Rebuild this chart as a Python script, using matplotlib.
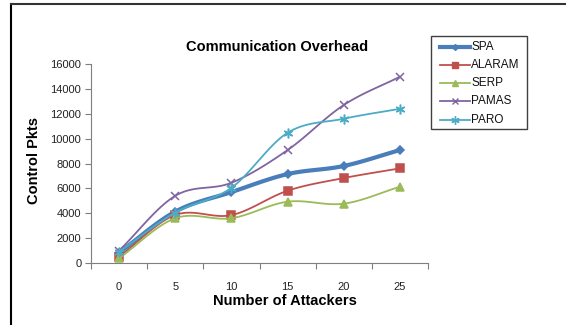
import numpy as np
import matplotlib
matplotlib.use("Agg")
from matplotlib import pyplot as plt
from matplotlib.lines import Line2D
from matplotlib.patches import Rectangle

plt.rcParams['font.family'] = ['Liberation Sans', 'DejaVu Sans']

# number of attackers (category axis)
attackers = [0, 5, 10, 15, 20, 25]

# control packets per protocol
spa = [830, 4130, 5700, 7150, 7800, 9080]
alaram = [510, 3860, 3850, 5810, 6830, 7610]
serp = [380, 3600, 3600, 4930, 4770, 6130]
pamas = [990, 5400, 6450, 9080, 12700, 14980]
paro = [900, 4050, 6050, 10470, 11600, 12400]

yticks = [0, 2000, 4000, 6000, 8000, 10000, 12000, 14000, 16000]

W, H = 566.0, 325.0


def fx(px):
    return px / W


def fy(py):
    return 1 - py / H


def smooth(xs, ys, n=20):
    # catmull-rom pass through the points, like the smoothed line option in excel
    xs = np.asarray(xs, float)
    ys = np.asarray(ys, float)
    px = np.concatenate([[2 * xs[0] - xs[1]], xs, [2 * xs[-1] - xs[-2]]])
    py = np.concatenate([[2 * ys[0] - ys[1]], ys, [2 * ys[-1] - ys[-2]]])
    outx, outy = [], []
    t = np.linspace(0, 1, n, endpoint=False)
    for i in range(1, len(px) - 2):
        for p, out in ((px, outx), (py, outy)):
            p0, p1, p2, p3 = p[i - 1], p[i], p[i + 1], p[i + 2]
            out.extend(0.5 * (2 * p1 + (-p0 + p2) * t
                              + (2 * p0 - 5 * p1 + 4 * p2 - p3) * t ** 2
                              + (-p0 + 3 * p1 - 3 * p2 + p3) * t ** 3))
    outx.append(xs[-1])
    outy.append(ys[-1])
    return outx, outy


fig = plt.figure(figsize=(W / 100, H / 100), dpi=100)
ax = fig.add_axes([fx(91), fy(263), fx(428 - 91), (263 - 64) / H])

pos = np.arange(len(attackers))
series = [
    ("SPA", spa, "#4A7EBB", "D", 3.0, 4),
    ("ALARAM", alaram, "#C0504D", "s", 1.3, 6),
    ("SERP", serp, "#9BBB59", "^", 1.3, 6),
    ("PAMAS", pamas, "#8064A2", "x", 1.3, 6),
    ("PARO", paro, "#4BACC6", (6, 2, 0), 1.3, 7),
]
for name, vals, col, mk, lw, ms in series:
    sx, sy = smooth(pos, vals)
    ax.plot(sx, sy, color=col, lw=lw, solid_capstyle='round')
    ax.plot(pos, vals, ls='none', marker=mk, ms=ms, color=col, mec=col, mew=1.1)

ax.set_xlim(-0.5, len(attackers) - 0.5)
ax.set_ylim(0, 16000)
ax.set_yticks(yticks)
ax.set_yticklabels([str(v) for v in yticks], fontsize=8)
ax.set_xticks(np.arange(-0.5, len(attackers), 1.0))
ax.set_xticklabels([])
ax.set_xticks(pos, minor=True)
ax.set_xticklabels([str(a) for a in attackers], minor=True, fontsize=8)
ax.tick_params(axis='x', which='minor', length=0, pad=14, colors='#222222')
ax.tick_params(axis='x', which='major', length=4, color='#7f7f7f', direction='out')
ax.tick_params(axis='y', length=4, direction='out', pad=3, colors='#222222')
ax.tick_params(axis='y', color='#7f7f7f')
for s in ['top', 'right']:
    ax.spines[s].set_visible(False)
for s in ['left', 'bottom']:
    ax.spines[s].set_color('#7f7f7f')

# titles placed like the excel chart
fig.text(fx(277), fy(47), "Communication Overhead", fontsize=10.5,
         fontweight='bold', ha='center', va='center')
fig.text(fx(285), fy(301), "Number of Attackers", fontsize=10.5,
         fontweight='bold', ha='center', va='center')
fig.text(fx(34), fy(161), "Control Pkts", fontsize=10.5, fontweight='bold',
         ha='center', va='center', rotation=90)

# legend box drawn by hand
fig.add_artist(Rectangle((fx(431), fy(129)), fx(527 - 431), (129 - 36) / H,
                         transform=fig.transFigure, fill=True, fc='white',
                         ec='#404040', lw=1.0))
for i, (name, vals, col, mk, lw, ms) in enumerate(series):
    yy = 46.5 + i * 18.3
    fig.add_artist(Line2D([fx(440), fx(470)], [fy(yy), fy(yy)], color=col, lw=lw,
                          transform=fig.transFigure))
    fig.add_artist(Line2D([fx(455)], [fy(yy)], ls='none', marker=mk, ms=ms - 1,
                          color=col, mec=col, mew=1.0, transform=fig.transFigure))
    fig.text(fx(471), fy(yy), name, fontsize=8.5, ha='left', va='center',
             color='#111111')

# outer frame on left and top
fig.add_artist(Line2D([fx(10.5), fx(10.5)], [0, fy(3.5)], color='black', lw=1.5))
fig.add_artist(Line2D([fx(10.5), 1], [fy(3.5), fy(3.5)], color='#333333', lw=1.5))

fig.savefig("out.png", dpi=100)
